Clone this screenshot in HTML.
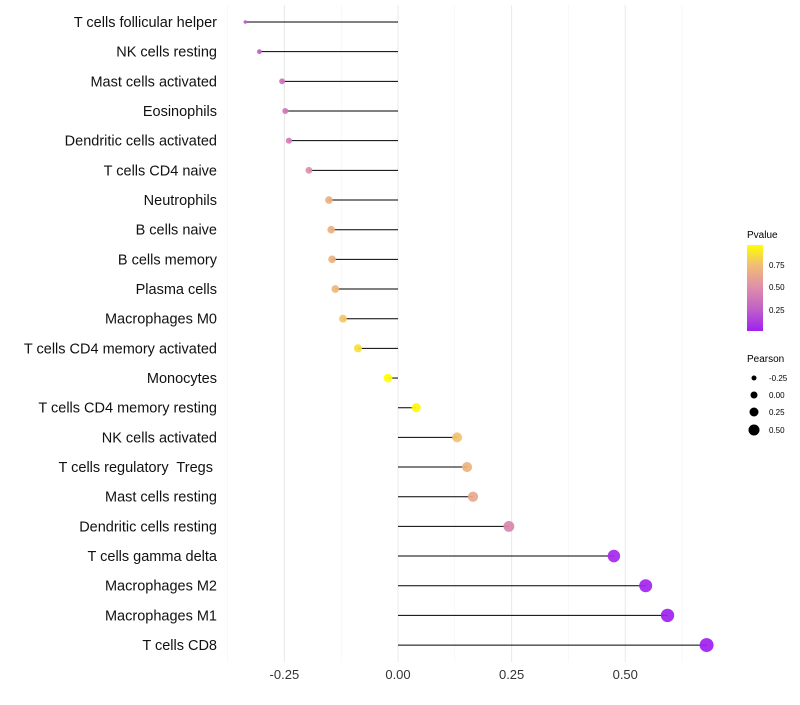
<!DOCTYPE html>
<html><head><meta charset="utf-8"><style>
body{margin:0;background:#fff;font-family:"Liberation Sans",sans-serif}
text{white-space:pre}
</style></head><body>
<svg id="chart" width="800" height="700">
<defs><linearGradient id="pg" x1="0" y1="1" x2="0" y2="0">
<stop offset="0" stop-color="#a020f0"/><stop offset="0.25" stop-color="#c060c8"/><stop offset="0.52" stop-color="#e090a8"/><stop offset="0.78" stop-color="#f2c070"/><stop offset="1" stop-color="#ffff00"/>
</linearGradient></defs>
<g id="grid"></g><g id="marks"></g><g id="labels"></g>
<g>
<text x="747" y="238" font-size="10" fill="#000">Pvalue</text>
<rect x="747" y="245" width="16" height="86" fill="url(#pg)"/>
<text x="769" y="268" font-size="8" fill="#000">0.75</text>
<text x="769" y="290" font-size="8" fill="#000">0.50</text>
<text x="769" y="313" font-size="8" fill="#000">0.25</text>
<text x="747" y="362" font-size="10" fill="#000">Pearson</text>
<circle cx="754" cy="378" r="2.5"/><text x="769" y="381" font-size="8">-0.25</text>
<circle cx="754" cy="395" r="3.5"/><text x="769" y="398" font-size="8">0.00</text>
<circle cx="754" cy="412" r="4.5"/><text x="769" y="415" font-size="8">0.25</text>
<circle cx="754" cy="430" r="5.5"/><text x="769" y="433" font-size="8">0.50</text>
</g>
</svg>
<script>
const categories=["T cells follicular helper","NK cells resting","Mast cells activated","Eosinophils","Dendritic cells activated","T cells CD4 naive","Neutrophils","B cells naive","B cells memory","Plasma cells","Macrophages M0","T cells CD4 memory activated","Monocytes","T cells CD4 memory resting","NK cells activated","T cells regulatory  Tregs ","Mast cells resting","Dendritic cells resting","T cells gamma delta","Macrophages M2","Macrophages M1","T cells CD8"];
const pearson=[-0.336,-0.305,-0.255,-0.248,-0.24,-0.196,-0.152,-0.147,-0.145,-0.138,-0.121,-0.088,-0.022,0.040,0.130,0.152,0.165,0.244,0.475,0.545,0.593,0.679];
const pvalue=[0.22,0.25,0.35,0.37,0.4,0.5,0.66,0.67,0.67,0.7,0.76,0.85,0.95,0.93,0.75,0.68,0.62,0.45,0.05,0.03,0.02,0.01];
const xTicks=[-0.25,0,0.25,0.5];
const xTickLabels=["-0.25","0.00","0.25","0.50"];
const NS="http://www.w3.org/2000/svg";
const x=v=>398+v*454.5;
const y=i=>22+i*29.67;
const stops=[[0,[160,32,240]],[0.25,[192,96,200]],[0.52,[224,144,168]],[0.78,[242,192,112]],[1,[255,255,0]]];
function col(p){const t=Math.max(0,Math.min(1,(p-0.017)/(0.95-0.017)));for(let k=1;k<stops.length;k++){if(t<=stops[k][0]){const a=stops[k-1],b=stops[k],f=(t-a[0])/(b[0]-a[0]);return "rgb("+a[1].map((c,j)=>Math.round(c+(b[1][j]-c)*f)).join(",")+")";}}return "rgb(255,255,0)";}
const sizeKnotsV=[-0.34,-0.3,-0.25,-0.15,0.13,0.68];
const sizeKnotsR=[1.6,2.5,3,3.8,5,7];
function rad(v){if(v<=sizeKnotsV[0])return sizeKnotsR[0];for(let k=1;k<sizeKnotsV.length;k++){if(v<=sizeKnotsV[k]){const f=(v-sizeKnotsV[k-1])/(sizeKnotsV[k]-sizeKnotsV[k-1]);return sizeKnotsR[k-1]+f*(sizeKnotsR[k]-sizeKnotsR[k-1]);}}return sizeKnotsR[sizeKnotsR.length-1];}
function mk(t,a,p){const e=document.createElementNS(NS,t);for(const k in a)e.setAttribute(k,a[k]);p.appendChild(e);return e;}
const G=document.getElementById("grid"),M=document.getElementById("marks"),L=document.getElementById("labels");
[-0.375,-0.125,0.125,0.375,0.625].forEach(v=>{const l=mk("line",{x1:x(v),x2:x(v),y1:5,y2:662,stroke:"#f3f3f3","stroke-width":0.6},G);

});
xTicks.forEach((v,i)=>{const l=mk("line",{x1:x(v),x2:x(v),y1:5,y2:662,stroke:"#e8e8e8","stroke-width":1},G);


const t=mk("text",{x:x(v),y:679,"text-anchor":"middle","font-size":13,fill:"#333"},L);t.textContent=xTickLabels[i];

});
categories.forEach((c,i)=>{const ln=mk("line",{x1:x(0),x2:x(pearson[i]),y1:y(i),y2:y(i),stroke:"#000","stroke-width":1},M);


const d=mk("circle",{cx:x(pearson[i]),cy:y(i),r:rad(pearson[i]),fill:col(pvalue[i]),"fill-opacity":0.92},M);


const t=mk("text",{x:217,y:y(i)+5,"text-anchor":"end","font-size":14.5,fill:"#111"},L);t.textContent=c;

});
</script>
</body></html>
